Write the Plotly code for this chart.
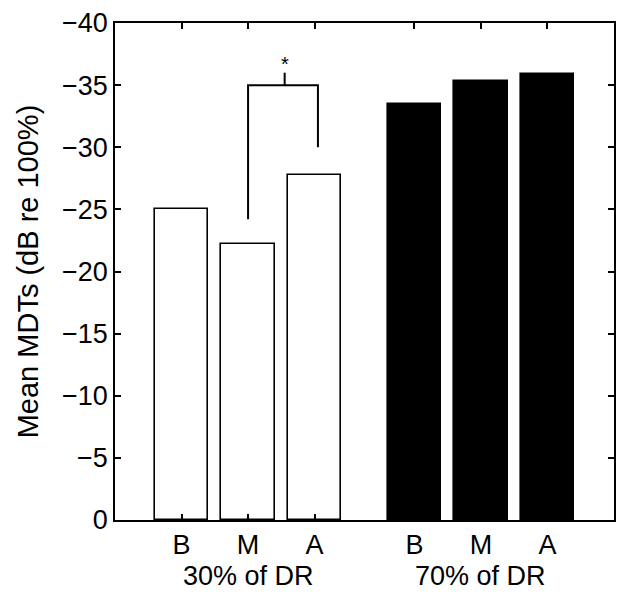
import plotly.graph_objects as go

# Data
positions = [1, 2, 3, 4.5, 5.5, 6.5]
tick_labels = ["B", "M", "A", "B", "M", "A"]
values_30 = [-25.0, -22.2, -27.8]
values_70 = [-33.5, -35.3, -35.9]
group_labels = ["30% of DR", "70% of DR"]
group_centers = [2, 5.5]
y_ticks = [0, -5, -10, -15, -20, -25, -30, -35, -40]

# significance bracket (between M and A of 30% group)
bracket_x = [2, 2, 3.05, 3.05]
bracket_y = [-24.2, -35, -35, -30]
bracket_mid_x = [2.55, 2.55]
bracket_mid_y = [-35, -36]
star_x, star_y = 2.55, -37.0

font = "Liberation Sans, Arial, Helvetica, sans-serif"

fig = go.Figure()
fig.add_trace(go.Bar(x=positions[:3], y=values_30, width=0.8,
                     marker=dict(color="white", line=dict(color="black", width=1.6)),
                     showlegend=False))
fig.add_trace(go.Bar(x=positions[3:], y=values_70, width=0.8,
                     marker=dict(color="black", line=dict(color="black", width=1.6)),
                     showlegend=False))
fig.add_trace(go.Scatter(x=bracket_x, y=bracket_y, mode="lines",
                         line=dict(color="black", width=2), showlegend=False))
fig.add_trace(go.Scatter(x=bracket_mid_x, y=bracket_mid_y, mode="lines",
                         line=dict(color="black", width=2), showlegend=False))
fig.add_annotation(x=star_x, y=star_y, text="*", showarrow=False,
                   font=dict(size=20, color="black", family=font), yshift=-4)

for lab, cx in zip(group_labels, group_centers):
    fig.add_annotation(x=cx, y=0, yref="paper", text=lab, showarrow=False,
                       yanchor="top", yshift=-39,
                       font=dict(size=27, color="black", family=font))

fig.update_layout(
    width=618, height=583,
    margin=dict(l=107, r=12, t=15, b=71),
    plot_bgcolor="white", paper_bgcolor="white",
    font=dict(family=font, size=27, color="black"),
    bargap=0,
)
fig.update_xaxes(range=[0, 7.5], tickvals=positions, ticktext=tick_labels,
                 showline=True, linecolor="black", linewidth=1.8, mirror="ticks",
                 ticks="inside", ticklen=6, tickcolor="black", tickwidth=1.8,
                 showgrid=False, zeroline=False, tickfont=dict(size=27),
                 automargin=False)
fig.update_yaxes(range=[0, -40], tickvals=y_ticks,
                 showline=True, linecolor="black", linewidth=1.8, mirror="ticks",
                 ticks="inside", ticklen=6, tickcolor="black", tickwidth=1.8,
                 showgrid=False, zeroline=False, tickfont=dict(size=27),
                 automargin=False,
                 title=dict(text="Mean MDTs (dB re 100%)", font=dict(size=29), standoff=15))

fig.write_html("out.html")
